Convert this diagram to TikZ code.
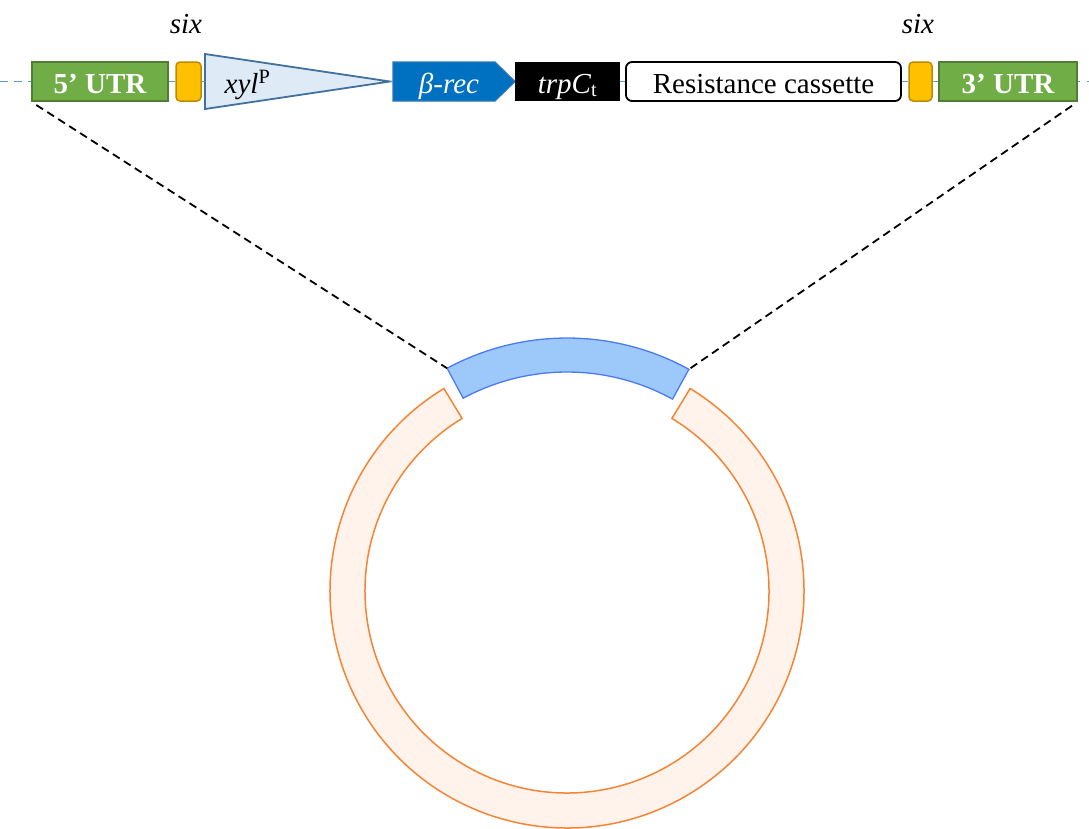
\documentclass[tikz,border=0pt]{standalone}
\usepackage{fontspec}
\setmainfont{Liberation Serif}

% palette
\definecolor{utrgreen}{HTML}{70AD47}
\definecolor{utrborder}{HTML}{507E32}
\definecolor{sixfill}{HTML}{FFC000}
\definecolor{sixborder}{HTML}{BC8C00}
\definecolor{promfill}{HTML}{DEEBF7}
\definecolor{promborder}{HTML}{41719C}
\definecolor{recfill}{HTML}{0070C0}
\definecolor{recborder}{HTML}{2E75B6}
\definecolor{backbone}{HTML}{5B9BD5}
\definecolor{insertfill}{HTML}{9DC8FA}
\definecolor{insertborder}{HTML}{4A7BF0}
\definecolor{ringfill}{HTML}{FFF3EC}
\definecolor{ringborder}{HTML}{F58535}

\newcommand\genefont{\fontsize{29}{32}\selectfont}

\tikzset{
  row/.style={minimum height=39pt, inner sep=0pt, text height=25pt, text depth=2pt, font=\genefont},
  utr/.style={row, fill=utrgreen, draw=utrborder, line width=1.5pt, text=white, font=\genefont\bfseries},
  sixbox/.style={row, fill=sixfill, draw=sixborder, line width=1.5pt, rounded corners=4pt},
  sitelabel/.style={anchor=base, inner sep=0pt, font=\genefont\itshape},
  dna/.style={draw=backbone, line width=1.8pt},
  guide/.style={draw=black, line width=1.8pt, dash pattern=on 8pt off 5pt},
  insertarc/.style={fill=insertfill, draw=insertborder, line width=1.3pt},
  ringarc/.style={fill=ringfill, draw=ringborder, line width=1.5pt},
}

\begin{document}
\begin{tikzpicture}[x=1pt, y=-1pt]
  \useasboundingbox (0,0) rectangle (1089,828);
  \fill[white] (0,0) rectangle (1089,828);

  % ---- gene cassette ----
  \node[utr, minimum width=136pt] (utr5) at (100,81.5) {5’ UTR};
  \node[sixbox, minimum width=25pt] (sixL) at (188.5,81.5) {};

  % xyl promoter (triangle)
  \coordinate (pTL) at (205,54);
  \coordinate (pBL) at (205,109);
  \coordinate (pTip) at (390,81.5);
  \filldraw[fill=promfill, draw=promborder, line width=1.8pt, line join=miter] (pTL) -- (pTip) -- (pBL) -- cycle;
  \node[row] (xyl) at (247.5,81.5) {\itshape xyl\textsuperscript{\upshape P}};

  % beta-recombinase (arrow shape)
  \coordinate (rA) at (393,62);
  \coordinate (rB) at (495,62);
  \coordinate (rTip) at (515,81.5);
  \coordinate (rC) at (495,101);
  \coordinate (rD) at (393,101);
  \filldraw[fill=recfill, draw=recborder, line width=1.2pt] (rA) -- (rB) -- (rTip) -- (rC) -- (rD) -- cycle;
  \node[row, text=white] (brec) at (449,81.5) {\itshape β-rec};

  \node[row, fill=black, minimum width=105pt, text=white] (trpc) at (567.5,81.5) {\itshape trpC\textsubscript{\upshape t}};
  \node[row, draw=black, fill=white, line width=1.8pt, rounded corners=6pt, minimum width=275pt] (res) at (763.5,81.5) {Resistance cassette};
  \node[sixbox, minimum width=23pt] (sixR) at (920.5,81.5) {};
  \node[utr, minimum width=138pt] (utr3) at (1008,81.5) {3’ UTR};

  % site labels
  \node[sitelabel] (sixLtxt) at (186,33) {six};
  \node[sitelabel] (sixRtxt) at (918,33) {six};

  % DNA backbone
  \coordinate (leftEnd) at (0,81.5);
  \coordinate (rightEnd) at (1089,81.5);
  \draw[dna, dash pattern=on 8pt off 6pt] (leftEnd) -- (utr5.west);
  \draw[dna] (utr5.east) -- (sixL.west);
  \draw[dna] (sixL.east) -- (pTL |- sixL.east);
  \draw[dna] (pTip) -- (rD |- pTip);
  \draw[dna] (trpc.east) -- (res.west);
  \draw[dna] (res.east) -- (sixR.west);
  \draw[dna] (sixR.east) -- (utr3.west);
  \draw[dna, dash pattern=on 2pt off 7pt] (utr3.east) -- (rightEnd);

  % ---- plasmid ----
  \begin{scope}[shift={(567,591)}, yscale=-1]
    \filldraw[ringarc] (121.3:237) arc[start angle=121.3, end angle=418.7, radius=237]
      -- (58.7:202) arc[start angle=58.7, end angle=-238.7, radius=202] -- cycle;
    \filldraw[insertarc] (61.2:253) arc[start angle=61.2, end angle=118.3, radius=253]
      -- (118.3:219) arc[start angle=118.3, end angle=61.2, radius=219] -- cycle;
    \coordinate (insL) at (118.3:253);
    \coordinate (insR) at (61.2:253);
  \end{scope}

  % insertion guides
  \draw[guide, shorten <=6pt] (utr5.south west) -- (insL);
  \draw[guide, shorten <=7pt] (utr3.south east) -- (insR);
\end{tikzpicture}
\end{document}
